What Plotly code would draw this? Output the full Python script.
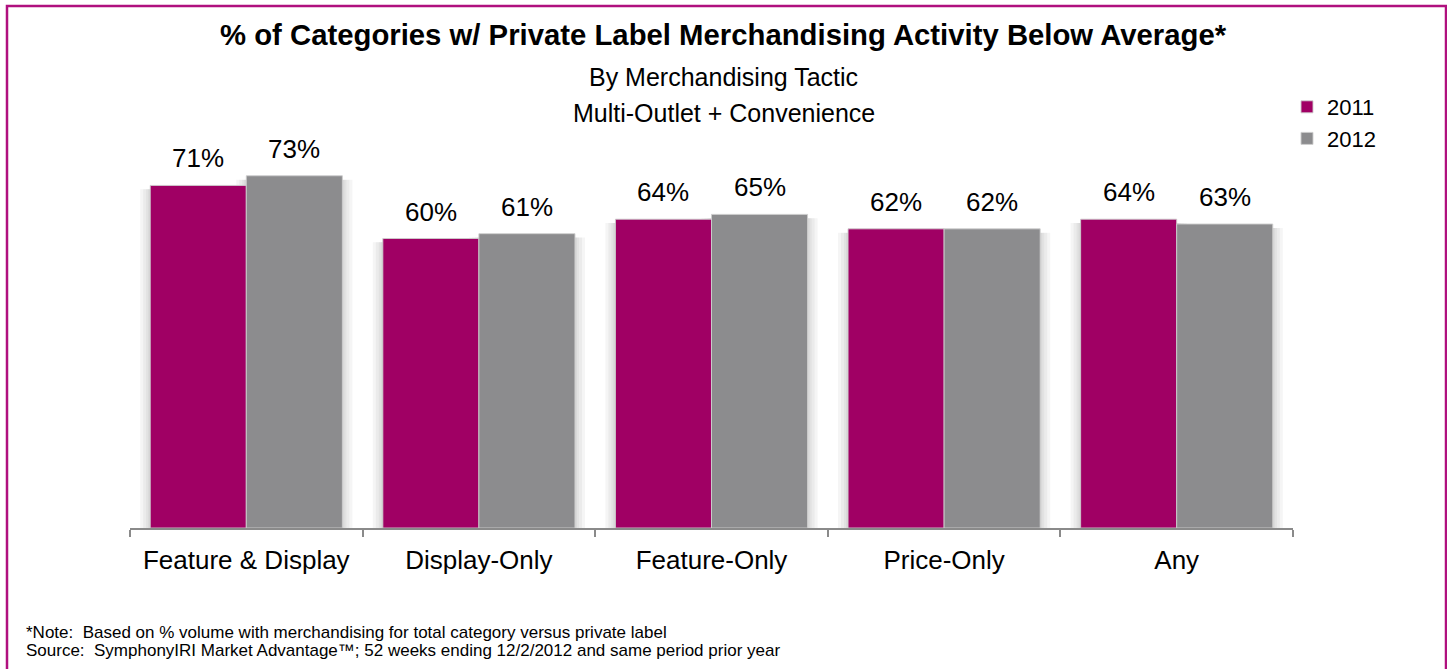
import plotly.graph_objects as go

# --- data -------------------------------------------------------------
categories = ["Feature & Display", "Display-Only", "Feature-Only", "Price-Only", "Any"]
values_2011 = [71, 60, 64, 62, 64]
values_2012 = [73, 61, 65, 62, 63]
series_names = ["2011", "2012"]

title_lines = [
    "% of Categories w/ Private Label Merchandising Activity Below Average*",
    "By Merchandising Tactic",
    "Multi-Outlet + Convenience",
]
footnotes = [
    "*Note:\u00a0 Based on % volume with merchandising for total category versus private label",
    "Source:\u00a0 SymphonyIRI Market Advantage\u2122; 52 weeks ending 12/2/2012 and same period prior year",
]

# --- styling ----------------------------------------------------------
FONT = "Arial, 'Liberation Sans', sans-serif"
COLORS = ["#A00064", "#8C8C8E"]
EDGE = "rgba(205,205,205,0.9)"
FRAME = "#B0107E"
AXIS = "#8A8A8A"

W, H = 1447, 669
ML, MR, MT, MB = 130, 154, 142, 141
PW = W - ML - MR
PH = H - MT - MB
Y_MAX = 80
BARGAP = 0.174
HALF_GROUP = (1 - BARGAP) / 2          # half a bar group, in category units
PX_PER_CAT = PW / len(categories)      # pixels per category slot
BAR_SHIFT = HALF_GROUP / 2 * PX_PER_CAT  # offset of each bar centre from the slot centre


def px_x(px):
    return (px - ML) / PW


def px_y(py):
    return (H - MB - py) / PH


fig = go.Figure()
for name, vals, color in zip(series_names, [values_2011, values_2012], COLORS):
    fig.add_trace(go.Bar(
        x=categories, y=vals, name=name, legendgroup=name,
        marker=dict(color=color, line=dict(color=EDGE, width=1)),
        hoverinfo="skip",
    ))

# soft drop shadow around every bar (a few translucent layers behind the bars)
shapes = []
for spread in [10, 7, 4, 2]:
    d = spread / PX_PER_CAT
    for side, vals in zip([-1, 1], [values_2011, values_2012]):
        for i, v in enumerate(vals):
            x0 = i if side > 0 else i - HALF_GROUP
            x1 = i + HALF_GROUP if side > 0 else i
            shapes.append(dict(
                type="rect", xref="x", yref="y", layer="below",
                x0=x0 - d, x1=x1 + d, y0=0, y1=v - 0.8,
                line=dict(width=0), fillcolor="rgba(90,90,90,0.06)",
            ))

# outer frame
shapes.append(dict(
    type="rect", xref="paper", yref="paper",
    x0=px_x(7), x1=px_x(1446), y0=px_y(720), y1=px_y(6),
    line=dict(color=FRAME, width=2.5), fillcolor="rgba(0,0,0,0)", layer="above",
))

annotations = []
# value labels above each bar
for shift, vals in zip([-BAR_SHIFT, BAR_SHIFT], [values_2011, values_2012]):
    for cat, v in zip(categories, vals):
        annotations.append(dict(
            x=cat, y=v, xref="x", yref="y", text=f"{v}%", showarrow=False,
            xshift=shift, yshift=10, yanchor="bottom", xanchor="center",
            font=dict(family=FONT, size=26, color="#000000"),
        ))

# heading
annotations.append(dict(
    x=(W / 2 - ML) / PW, y=px_y(35), xref="paper", yref="paper",
    text=f"<b>{title_lines[0]}</b>", showarrow=False, xanchor="center", yanchor="middle",
    font=dict(family=FONT, size=29.3, color="#000000"),
))
for line, yc in zip(title_lines[1:], [77, 113]):
    annotations.append(dict(
        x=(W / 2 - ML) / PW, y=px_y(yc), xref="paper", yref="paper",
        text=line, showarrow=False, xanchor="center", yanchor="middle",
        font=dict(family=FONT, size=25, color="#000000"),
    ))

# footnotes
for line, yc in zip(footnotes, [632, 650]):
    annotations.append(dict(
        x=px_x(24), y=px_y(yc), xref="paper", yref="paper",
        text=line, showarrow=False, xanchor="left", yanchor="middle",
        font=dict(family=FONT, size=17, color="#000000"),
    ))

fig.update_layout(
    width=W, height=H,
    margin=dict(l=ML, r=MR, t=MT, b=MB, pad=0),
    paper_bgcolor="#FFFFFF", plot_bgcolor="#FFFFFF",
    barmode="group", bargap=BARGAP, bargroupgap=0,
    font=dict(family=FONT, color="#000000"),
    showlegend=True,
    legend=dict(
        x=px_x(1287), y=px_y(86), xanchor="left", yanchor="top",
        font=dict(family=FONT, size=22, color="#000000"),
        bgcolor="rgba(0,0,0,0)", itemwidth=30, tracegroupgap=10,
        traceorder="normal",
    ),
    xaxis=dict(
        showline=True, linecolor=AXIS, linewidth=1.5,
        ticks="outside", tickson="boundaries", ticklen=7,
        tickcolor=AXIS, tickwidth=1.5, showgrid=False,
        tickfont=dict(family=FONT, size=26, color="#000000"),
        ticklabelstandoff=8, fixedrange=True,
    ),
    yaxis=dict(visible=False, range=[0, Y_MAX], fixedrange=True),
    annotations=annotations,
    shapes=shapes,
)

fig.write_html("out.html")
